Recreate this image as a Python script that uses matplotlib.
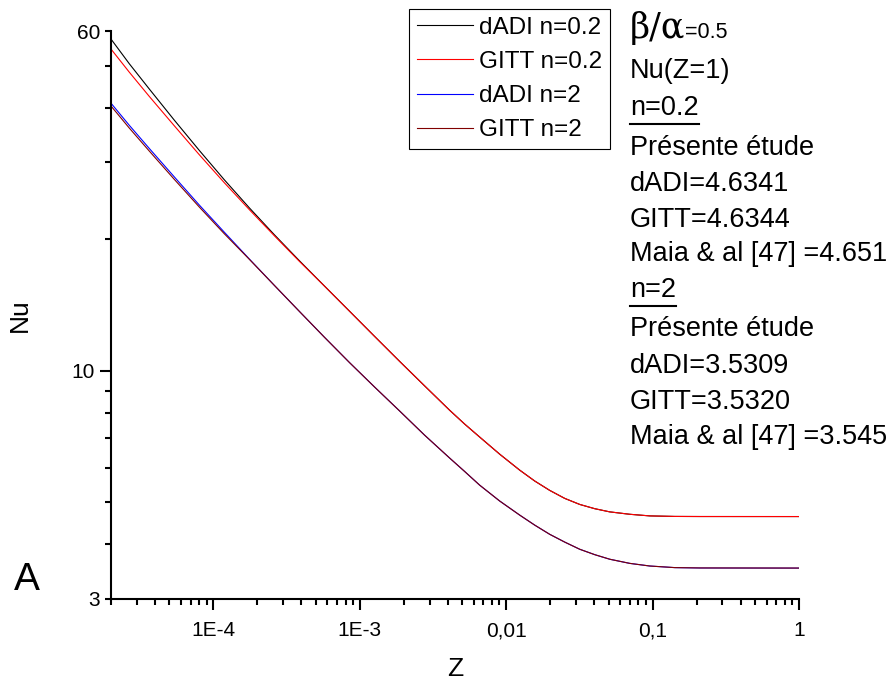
import matplotlib
matplotlib.use("Agg")
import matplotlib.pyplot as plt
from matplotlib.ticker import FixedLocator, FixedFormatter, NullFormatter

plt.rcParams['font.family'] = ['Liberation Sans', 'DejaVu Sans']

# axial position Z and local Nusselt number, beta/alpha = 0.5
z = [2e-5, 2.665e-5, 3.65e-5, 5.41e-5, 8.02e-5, 1.189e-4, 1.763e-4, 2.613e-4,
     3.873e-4, 5.74e-4, 8.51e-4, 1.261e-3, 1.87e-3, 2.771e-3, 4.109e-3,
     5.2e-3, 6.587e-3, 9.03e-3, 1.237e-2, 1.566e-2, 1.983e-2, 2.512e-2,
     3.18e-2, 4.03e-2, 5.1e-2, 6.99e-2, 9.58e-2, 0.142, 0.2104, 1.0]
nu_dadi_02 = [57.5, 50.5, 44.2, 37.5, 31.96, 27.37, 23.6, 20.48,
              17.86, 15.63, 13.69, 11.99, 10.51, 9.235, 8.12,
              7.55, 7.05, 6.44, 5.92, 5.59, 5.32, 5.10,
              4.94, 4.83, 4.75, 4.69, 4.65, 4.637, 4.635, 4.6341]
nu_gitt_02 = [54.55, 48.3, 42.5, 36.4, 31.24, 26.95, 23.38, 20.37,
              17.80, 15.63, 13.69, 11.99, 10.51, 9.235, 8.12,
              7.55, 7.05, 6.44, 5.92, 5.59, 5.32, 5.10,
              4.94, 4.83, 4.75, 4.69, 4.65, 4.637, 4.635, 4.6344]
nu_dadi_2 = [41.0, 36.5, 32.3, 27.8, 23.96, 20.76, 18.02, 15.68,
             13.67, 11.93, 10.44, 9.18, 8.09, 7.12, 6.31,
             5.88, 5.47, 5.03, 4.67, 4.43, 4.22, 4.05,
             3.90, 3.79, 3.70, 3.62, 3.57, 3.54, 3.533, 3.5309]
nu_gitt_2 = [40.4, 35.97, 31.86, 27.44, 23.71, 20.59, 17.99, 15.68,
             13.67, 11.93, 10.44, 9.18, 8.09, 7.12, 6.31,
             5.88, 5.47, 5.03, 4.67, 4.43, 4.22, 4.05,
             3.90, 3.79, 3.70, 3.62, 3.57, 3.54, 3.534, 3.5320]

series = [
    ("dADI n=0.2", nu_dadi_02, "black"),
    ("GITT n=0.2", nu_gitt_02, "#ff0000"),
    ("dADI n=2", nu_dadi_2, "#0000ff"),
    ("GITT n=2", nu_gitt_2, "#800000"),
]

x_ticks = [1e-4, 1e-3, 1e-2, 1e-1, 1]
x_labels = ["1E-4", "1E-3", "0,01", "0,1", "1"]

notes = ["Nu(Z=1)", "n=0.2", "Présente étude", "dADI=4.6341", "GITT=4.6344",
         "Maia & al [47] =4.651", "n=2", "Présente étude", "dADI=3.5309",
         "GITT=3.5320", "Maia & al [47] =3.545"]
note_rows = [78, 115, 155, 191, 227, 261, 297, 336, 373, 409, 444]
underlined = ["n=0.2", "n=2"]

W, H = 892, 687
fig = plt.figure(figsize=(W / 100, H / 100), dpi=100)
ax = fig.add_axes([111 / W, 1 - 599 / H, (799 - 111) / W, (599 - 31) / H])

for label, nu, color in series:
    ax.plot(z, nu, color=color, lw=0.8, label=label)

ax.set_xscale("log")
ax.set_yscale("log")
ax.set_xlim(2e-5, 1)
ax.set_ylim(3, 60)

for side in ("top", "right"):
    ax.spines[side].set_visible(False)
for side in ("left", "bottom"):
    ax.spines[side].set_linewidth(1.5)

ax.xaxis.set_major_locator(FixedLocator(x_ticks))
ax.xaxis.set_major_formatter(FixedFormatter(x_labels))
x_minor = [m * 10.0 ** e for e in range(-5, 0) for m in range(2, 10)]
ax.xaxis.set_minor_locator(FixedLocator(x_minor))
ax.xaxis.set_minor_formatter(NullFormatter())

y_minor = [3, 4, 5, 6, 7, 8, 9, 20, 30, 40, 50, 60]
ax.yaxis.set_major_locator(FixedLocator([10]))
ax.yaxis.set_major_formatter(FixedFormatter(["10"]))
ax.yaxis.set_minor_locator(FixedLocator(y_minor))
ax.yaxis.set_minor_formatter(FixedFormatter(
    ["3" if v == 3 else "60" if v == 60 else "" for v in y_minor]))

ax.tick_params(which="major", direction="out", length=8, width=1.5, labelsize=15)
ax.tick_params(which="minor", direction="out", length=4, width=1.5, labelsize=15)
ax.tick_params(axis="x", which="both", pad=8)
ax.tick_params(axis="y", which="both", pad=4)

ax.set_xlabel("Z", fontsize=19, labelpad=12)
ax.set_ylabel("Nu", fontsize=19, labelpad=28)

leg = ax.legend(loc="upper left", bbox_to_anchor=(409 / W, 1 - 9 / H),
                bbox_transform=fig.transFigure, fontsize=17.5, frameon=True,
                fancybox=False, edgecolor="black", framealpha=1,
                handlelength=2.3, handletextpad=0.28, labelspacing=0.5,
                borderpad=0.32, borderaxespad=0)
leg.get_frame().set_linewidth(0.8)

# side annotations
tx = 630 / W
ratio = fig.text(tx, 1 - 38 / H, "β/α", fontsize=25, va="baseline",
                 family=["DejaVu Serif"])
fig.canvas.draw()
rb = ratio.get_window_extent()
fig.text(rb.x1 / W, 1 - 38 / H, "=0.5", fontsize=15.5, va="baseline")

for text, row in zip(notes, note_rows):
    t = fig.text(tx, 1 - row / H, text, fontsize=19.5, va="baseline")
    if text in underlined:
        fig.canvas.draw()
        bb = t.get_window_extent()
        fig.add_artist(plt.Line2D([bb.x0 / W, bb.x1 / W],
                                  [(H - row - 9) / H] * 2,
                                  color="black", lw=1.5))

fig.text(27 / W, 1 - 590 / H, "A", fontsize=28, ha="center", va="baseline")

fig.savefig("out.png", dpi=100)
